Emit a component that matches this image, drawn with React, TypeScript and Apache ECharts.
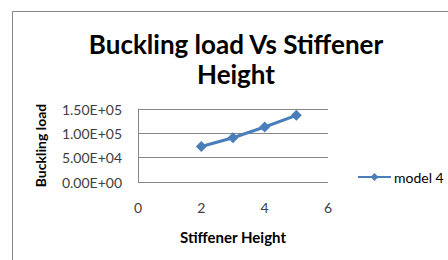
import React, { useEffect, useRef } from "react";
import * as echarts from "echarts";

const xValues = [2, 3, 4, 5];
const loadValues = [73000, 91000, 113000, 137000];
const seriesName = "model 4";
const titleText = "Buckling load Vs Stiffener\nHeight";
const xAxisTitle = "Stiffener Height";
const yAxisTitle = "Buckling load";

function sci(v: number): string {
  const s = v.toExponential(2);
  const [m, e] = s.split("e");
  const sign = e[0] === "-" ? "-" : "+";
  const digits = e.replace(/[+-]/, "").padStart(2, "0");
  return `${m}E${sign}${digits}`;
}

export default function App() {
  const ref = useRef<HTMLDivElement>(null);
  useEffect(() => {
    if (!ref.current) return;
    const chart = echarts.init(ref.current, undefined, { renderer: "svg" });
    const font = "Lato";
    chart.setOption({
      animation: false,
      backgroundColor: "#ffffff",
      textStyle: { fontFamily: font },
      title: {
        text: titleText,
        left: 231,
        top: 24,
        textAlign: "center",
        textStyle: {
          fontFamily: font,
          fontWeight: "bold",
          fontSize: 26,
          lineHeight: 30,
          color: "#000000",
        },
      },
      graphic: [
        {
          type: "rect",
          shape: { x: 12.5, y: 11.5, width: 500, height: 300 },
          style: { fill: "none", stroke: "#868686", lineWidth: 1 },
          silent: true,
          z: -1,
        },
      ],
      legend: {
        left: 357,
        top: 170,
        padding: 0,
        itemWidth: 33,
        itemHeight: 10,
        itemGap: 4,
        textStyle: { fontFamily: font, fontSize: 14, color: "#000000", padding: [0, 0, 0, -2] },
        data: [seriesName],
      },
      grid: { left: 138, right: 120, top: 109, bottom: 78 },
      xAxis: {
        type: "value",
        min: 0,
        max: 6,
        interval: 2,
        name: xAxisTitle,
        nameLocation: "middle",
        nameGap: 47,
        nameTextStyle: { fontFamily: font, fontWeight: "bold", fontSize: 15, color: "#000000" },
        axisLine: { show: false },
        axisTick: { show: false },
        splitLine: { show: false },
        axisLabel: { margin: 18, fontFamily: font, fontSize: 14, color: "#404040" },
      },
      yAxis: {
        type: "value",
        min: 0,
        max: 150000,
        interval: 50000,
        name: yAxisTitle,
        nameLocation: "middle",
        nameGap: 91,
        nameTextStyle: { fontFamily: font, fontWeight: "bold", fontSize: 14, color: "#000000" },
        axisLine: { show: true, lineStyle: { color: "#868686", width: 1 } },
        axisTick: { show: false },
        splitLine: { show: true, lineStyle: { color: "#868686", width: 1 } },
        axisLabel: {
          margin: 16,
          fontFamily: font,
          fontSize: 14,
          color: "#404040",
          formatter: (v: number) => sci(v),
        },
      },
      series: [
        {
          name: seriesName,
          type: "line",
          data: xValues.map((x, i) => [x, loadValues[i]]),
          symbol: "diamond",
          symbolSize: 11,
          lineStyle: { color: "#4A7EBB", width: 3 },
          itemStyle: { color: "#4A7EBB" },
        },
      ],
    });
    return () => chart.dispose();
  }, []);
  return (
    <div
      ref={ref}
      style={{ position: "fixed", left: 0, top: 0, width: 448, height: 260 }}
    />
  );
}
